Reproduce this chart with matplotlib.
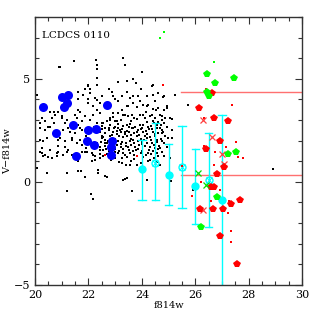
import matplotlib
matplotlib.use("Agg")
import matplotlib.pyplot as plt
from matplotlib.ticker import MultipleLocator

# field galaxies (small black dots): (f814w, V-f814w)
field = [
    (21.46, 5.87), (20.91, 5.55), (22.27, 5.91), (22.31, 5.65), (22.32, 5.49), (23.28, 6.03),
    (23.35, 5.65), (24.0, 5.35), (22.31, 5.05), (23.12, 4.84), (23.43, 4.87), (23.66, 4.99),
    (23.77, 4.81), (24.37, 4.66), (21.97, 4.66), (21.87, 4.50), (22.06, 4.50), (22.75, 4.50),
    (22.87, 4.38), (23.96, 4.51), (24.43, 4.70), (22.0, 4.71), (22.31, 4.71), (20.94, 5.57),
    (21.6, 4.03), (22.0, 4.01), (22.31, 3.98), (22.43, 3.82), (23.0, 4.01), (23.12, 3.90),
    (23.25, 4.14), (23.56, 4.06), (23.68, 4.14), (23.93, 3.93), (24.18, 4.14), (24.49, 3.90),
    (23.43, 3.66), (23.81, 3.63), (24.18, 3.66), (24.53, 3.50), (20.69, 3.37), (20.87, 3.41),
    (21.69, 3.38), (22.31, 3.50), (22.93, 3.33), (23.31, 3.25), (23.62, 3.25), (23.93, 3.25),
    (24.37, 3.25), (20.06, 4.22), (21.62, 4.38), (21.81, 4.22), (22.06, 4.31), (22.25, 4.06),
    (22.50, 4.14), (22.0, 3.82), (22.18, 3.66), (21.62, 3.50), (21.50, 3.25), (21.87, 3.17),
    (22.18, 3.25), (22.43, 3.33), (20.56, 3.41), (20.75, 3.25), (21.0, 3.09),
    (22.93, 4.17), (23.43, 4.38), (23.87, 4.17), (24.43, 4.22), (24.62, 4.31), (24.81, 4.14),
    (23.12, 3.33), (23.49, 3.66), (23.68, 3.82), (24.06, 3.74), (24.24, 3.74), (24.62, 3.58),
    (24.81, 3.50), (24.93, 3.66), (22.81, 3.01), (23.0, 2.93), (23.37, 3.25), (23.49, 3.17),
    (24.06, 3.25), (24.12, 3.09), (24.31, 3.17), (24.49, 3.09), (24.68, 3.25), (24.75, 3.01),
    (25.06, 3.09), (24.78, 4.11), (25.24, 4.22), (25.74, 3.74), (24.93, 3.58), (24.75, 3.17),
    (24.87, 3.09), (25.12, 3.04), (24.81, 2.85), (24.93, 2.68), (25.12, 2.52), (24.75, 2.36),
    (24.87, 2.20), (24.99, 2.12), (25.12, 2.12), (24.81, 1.88), (24.68, 1.64), (24.93, 1.71),
    (20.25, 3.09), (20.37, 2.93), (20.62, 3.09), (21.0, 3.17), (21.19, 3.01), (21.56, 3.09),
    (21.75, 2.93), (22.06, 3.01), (22.56, 2.85), (22.81, 3.09), (23.06, 2.93), (20.19, 2.61),
    (20.37, 2.52), (20.56, 2.68), (21.06, 2.52), (21.31, 2.44), (21.69, 2.61), (22.43, 2.44),
    (22.62, 2.61), (23.0, 2.68), (23.18, 2.52), (23.43, 2.77), (23.68, 2.61), (23.93, 2.77),
    (24.24, 2.68), (24.56, 2.77), (20.19, 2.04), (20.44, 2.12), (20.87, 2.04), (21.12, 1.96),
    (21.37, 2.12), (21.69, 2.04), (22.50, 2.12), (22.69, 1.88), (20.19, 1.47), (20.37, 1.31),
    (20.56, 1.55), (20.81, 1.39), (21.19, 1.47), (21.87, 1.47), (22.18, 1.31), (22.43, 1.55),
    (20.19, 2.85), (20.50, 2.68), (20.69, 2.85), (21.12, 2.85), (21.25, 2.61), (21.62, 2.77),
    (21.75, 2.52), (22.31, 2.85), (22.50, 2.85), (20.31, 1.96), (20.94, 2.12), (21.37, 2.04),
    (21.56, 1.88), (21.75, 1.80), (22.06, 2.04), (22.50, 2.20), (22.43, 1.71), (22.62, 1.88),
    (21.12, 1.71), (20.87, 1.75), (20.25, 1.64), (20.25, 1.42), (20.31, 1.23), (20.50, 1.20),
    (20.62, 1.15), (20.85, 1.47), (20.81, 1.26), (21.06, 1.31), (21.25, 1.52), (21.62, 0.99),
    (21.75, 1.47), (21.94, 1.47), (22.12, 1.39), (22.25, 1.23), (22.43, 1.36), (22.12, 1.03),
    (22.25, 1.07), (22.43, 1.15), (22.56, 1.23), (20.06, 0.67), (20.46, 0.42), (21.19, 0.42),
    (21.60, 0.50), (21.71, 0.53), (21.87, 0.21), (22.37, 0.45), (22.37, 0.55), (21.21, -0.47),
    (22.10, -0.60), (22.18, -0.84), (23.37, 0.13), (23.43, 0.18), (23.62, -0.44), (24.18, 0.10),
    (22.63, 0.26), (23.25, 0.91), (23.41, 0.83), (23.81, 0.83), (22.69, 0.23), (23.31, 0.10),
    (24.68, 0.83), (24.24, 0.99), (23.25, 1.15), (23.56, 0.83),
    (22.7, 2.95), (23.2, 3.0), (23.6, 2.95), (23.8, 3.05), (24.2, 2.9), (24.4, 2.97), (24.6, 2.88),
    (22.8, 2.75), (23.1, 2.82), (23.3, 2.7), (23.55, 2.8), (23.75, 2.68), (24.05, 2.75),
    (24.35, 2.72), (24.7, 2.77), (22.5, 2.55), (22.75, 2.5), (22.95, 2.6), (23.27, 2.55),
    (23.45, 2.48), (23.62, 2.6), (23.85, 2.5), (24.02, 2.62), (24.15, 2.48), (24.37, 2.55),
    (24.55, 2.6), (24.75, 2.5), (22.6, 2.35), (22.9, 2.4), (23.05, 2.3), (23.2, 2.42),
    (23.35, 2.3), (23.5, 2.4), (23.7, 2.35), (23.9, 2.28), (24.05, 2.4), (24.2, 2.3),
    (24.4, 2.42), (24.6, 2.35), (24.8, 2.4), (22.55, 2.15), (22.8, 2.2), (23.0, 2.1),
    (23.15, 2.22), (23.3, 2.15), (23.45, 2.2), (23.6, 2.08), (23.8, 2.2), (23.95, 2.1),
    (24.1, 2.22), (24.3, 2.15), (24.5, 2.2), (24.7, 2.1), (22.45, 1.95), (22.72, 2.0),
    (22.95, 1.9), (23.1, 2.0), (23.25, 1.95), (23.4, 1.88), (23.55, 2.0), (23.7, 1.9),
    (23.85, 2.0), (24.0, 1.95), (24.2, 1.9), (24.35, 2.02), (24.55, 1.95), (24.75, 1.97),
    (22.6, 1.75), (22.8, 1.7), (23.05, 1.8), (23.2, 1.7), (23.4, 1.75), (23.6, 1.8),
    (23.75, 1.7), (23.9, 1.8), (24.1, 1.75), (24.3, 1.7), (24.45, 1.8), (24.65, 1.72),
    (22.55, 1.55), (22.75, 1.5), (23.0, 1.6), (23.15, 1.5), (23.3, 1.6), (23.5, 1.55),
    (23.65, 1.48), (23.85, 1.6), (24.0, 1.5), (24.25, 1.55), (24.4, 1.48), (24.6, 1.6),
    (22.7, 1.35), (22.95, 1.3), (23.1, 1.4), (23.35, 1.3), (23.55, 1.4), (23.7, 1.3),
    (23.95, 1.4), (24.15, 1.3), (24.35, 1.35), (24.55, 1.4), (23.0, 1.15), (23.45, 1.2),
    (23.7, 1.1), (24.05, 1.2), (24.45, 1.15), (24.75, 1.47), (24.81, 1.26), (25.06, 1.15),
    (24.68, 0.83), (25.08, 0.02), (25.93, -0.42), (28.90, 0.62),
    # extra dots in the crowded part of the cloud
    (22.62, 2.05), (22.88, 2.28), (23.12, 2.62), (23.38, 2.42), (23.58, 2.25), (23.82, 2.42),
    (24.08, 2.05), (24.28, 2.58), (24.5, 2.32), (24.68, 2.62), (22.98, 1.45), (23.22, 1.85),
    (23.48, 1.68), (23.78, 1.55), (24.02, 1.85), (24.22, 1.42), (24.48, 1.65), (24.62, 1.25),
    (22.85, 1.05), (23.15, 0.95), (23.6, 1.02), (23.95, 0.92), (24.3, 1.05), (24.55, 0.95),
    (22.52, 2.7), (22.78, 2.62), (23.05, 2.48), (23.52, 2.65), (23.98, 2.55), (24.45, 2.85),
    (22.65, 1.6), (23.28, 1.42), (23.68, 2.05), (24.18, 2.12), (24.38, 1.88), (24.58, 2.05),
    (22.9, 3.15), (23.72, 3.1), (24.15, 3.4), (24.4, 3.55), (23.25, 3.5), (22.7, 3.7),
    (21.4, 1.3), (21.9, 1.65), (22.3, 1.9), (21.5, 2.35), (22.2, 2.65), (21.9, 2.2),
]

# cluster members (big blue dots)
blue_mag = [20.28, 21.01, 21.25, 21.09, 21.19, 22.69, 21.41, 20.79, 21.97, 22.28,
            21.95, 22.22, 22.88, 22.85, 21.55, 22.85]
blue_col = [3.61, 4.13, 4.19, 3.64, 3.80, 3.72, 2.75, 2.38, 2.49, 2.57,
            1.98, 1.80, 1.96, 1.71, 1.23, 1.28]

# big red pentagons
red_mag = [26.61, 26.14, 26.70, 27.22, 26.93, 26.40, 26.81, 27.08, 26.57, 26.70,
           26.18, 26.66, 27.05, 27.34, 27.68, 26.93, 27.57]
red_col = [4.33, 3.59, 3.08, 2.95, 1.96, 1.58, 0.38, 0.71, -0.26, -0.26,
           -1.33, -1.33, -1.31, -1.10, -0.87, -2.61, -3.98]

# small red dots
red_small_mag = [24.78, 26.39, 27.39, 26.33, 26.33, 26.75, 27.14, 27.52, 27.61, 27.80,
                 26.70, 26.21, 25.87, 26.94, 26.59, 27.27, 27.24, 27.34, 27.34, 25.51,
                 23.83, 22.60]
red_small_col = [4.71, 4.51, 3.74, 3.11, 1.76, 1.46, 1.67, 1.93, 1.20, 1.15,
                 0.83, 0.01, -0.71, -0.39, -0.92, -0.91, -1.52, -2.39, -2.90, 0.78,
                 1.26, 1.28]

# red crosses
red_x_mag = [26.30, 26.62, 27.01, 27.09, 26.28]
red_x_col = [2.98, 2.17, 1.36, 0.87, -1.39]

# green
green_mag = [26.42, 26.74, 27.45, 26.43, 26.52, 27.22, 27.52, 26.83, 26.22]
green_col = [5.23, 4.79, 5.02, 4.38, 4.14, 1.34, 1.47, -0.76, -2.18]
green_small_mag = [24.83, 24.66, 26.70]
green_small_col = [7.28, 6.97, 5.79]
green_x_mag = [26.12, 26.39]
green_x_col = [0.45, -0.15]

# stacked points with error bars (cyan)
cyan_mag = [24.0, 24.5, 25.0, 25.5, 26.0, 26.5, 27.0]
cyan_col = [0.62, 0.91, 0.34, 0.74, -0.22, 0.10, -0.87]
cyan_top = [2.04, 2.87, 1.84, 2.69, 1.59, 2.36, 3.25]
cyan_bot = [-0.87, -0.87, -1.12, -1.28, -2.04, -2.20, -6.0]

# red-sequence limit lines
line_start = 25.47
line_levels = [4.37, 0.35]

plt.rcParams['font.family'] = ['DejaVu Serif']
fig = plt.figure(figsize=(3.19, 3.19), dpi=100)
ax = fig.add_axes([0.11, 0.107, 0.837, 0.840])

fx = [p[0] for p in field]
fy = [p[1] for p in field]
ax.plot(fx, fy, 's', color='black', ms=1.5, mew=0)

for lev in line_levels:
    ax.plot([line_start, 30], [lev, lev], color='#ff7070', lw=1)

# error bars
for i in range(len(cyan_mag)):
    x = cyan_mag[i]
    ax.plot([x, x], [cyan_bot[i], cyan_top[i]], color='cyan', lw=1)
    ax.plot([x - 0.14, x + 0.14], [cyan_top[i], cyan_top[i]], color='cyan', lw=1)
    ax.plot([x - 0.14, x + 0.14], [cyan_bot[i], cyan_bot[i]], color='cyan', lw=1)
filled = [0, 2, 4, 6]
hollow = [1, 3, 5]
ax.plot([cyan_mag[i] for i in filled], [cyan_col[i] for i in filled], 'o',
        color='cyan', ms=6, mew=0)
ax.plot([cyan_mag[i] for i in hollow], [cyan_col[i] for i in hollow], 'o',
        mfc='none', mec='cyan', ms=5, mew=1)
ax.plot([cyan_mag[i] for i in hollow], [cyan_col[i] for i in hollow], 'x',
        color='cyan', ms=4, mew=0.8)

ax.plot(red_small_mag, red_small_col, 's', color='red', ms=2, mew=0)
ax.plot(red_x_mag, red_x_col, 'x', color='#ff4040', ms=4.5, mew=0.9)
ax.plot(red_mag, red_col, 'p', color='red', ms=6, mew=0)
ax.plot(green_small_mag, green_small_col, 's', color='#00ff00', ms=2, mew=0)
ax.plot(green_x_mag, green_x_col, 'x', color='#00e000', ms=4.5, mew=0.9)
ax.plot(green_mag, green_col, 'p', color='#00ff00', ms=6, mew=0)
ax.plot(blue_mag, blue_col, 'o', color='blue', ms=6.5, mew=0)

ax.set_xlim(20, 30)
ax.set_ylim(-5, 8)
ax.xaxis.set_major_locator(MultipleLocator(2))
ax.xaxis.set_minor_locator(MultipleLocator(0.5))
ax.yaxis.set_major_locator(MultipleLocator(5))
ax.yaxis.set_minor_locator(MultipleLocator(1))
ax.tick_params(which='both', direction='in', top=True, right=True, labelsize=8,
               width=0.8, color='#333333')
ax.tick_params(which='major', length=5)
ax.tick_params(which='minor', length=3)
for sp in ax.spines.values():
    sp.set_linewidth(1.0)
    sp.set_color('#333333')

ax.set_xlabel('f814w', fontsize=7, labelpad=1)
ax.set_ylabel('V\u2212f814w', fontsize=7, labelpad=1)
ax.text(0.025, 0.93, 'LCDCS 0110', transform=ax.transAxes, fontsize=7.5,
        va='center', ha='left')

fig.savefig('out.png', dpi=100)
